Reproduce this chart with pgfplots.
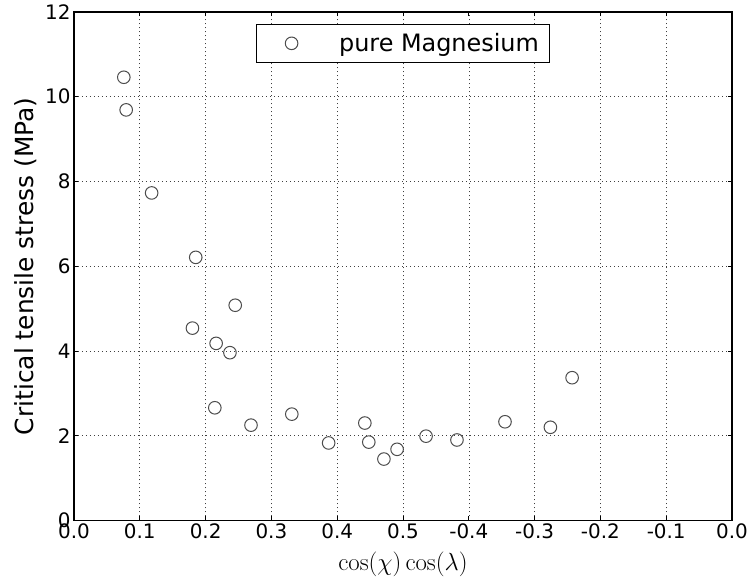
\documentclass[border=0pt]{standalone}
\usepackage{pgfplots}
\pgfplotsset{compat=1.18}
\usepackage[no-math]{fontspec}
\setmainfont{DejaVu Sans}
\usetikzlibrary{calc}
\begin{document}
\begin{tikzpicture}
\begin{axis}[name=ax, scale only axis, width=658bp, height=508.5bp,
  xmin=0, xmax=1, ymin=0, ymax=12,
  xtick={0,0.1,0.2,0.3,0.4,0.5,0.6,0.7,0.8,0.9,1},
  xticklabels={0.0,0.1,0.2,0.3,0.4,0.5,-0.4,-0.3,-0.2,-0.1,0.0},
  ytick={0,2,4,6,8,10,12}, yticklabels={0,2,4,6,8,10,12},
  tick align=inside, major tick length=4bp,
  tick style={black, line width=0.8bp},
  axis line style={black, line width=1.1bp},
  grid=major,
  major grid style={black!75, line width=0.6bp, dash pattern=on 1bp off 3bp},
  ticklabel style={font=\fontsize{20}{24}\selectfont},
  xlabel={$\cos(\chi)\cos(\lambda)$},
  ylabel={Critical tensile stress (MPa)},
  xlabel style={font=\fontsize{25}{30}\selectfont, at={(axis description cs:0.5,0)}, anchor=base, yshift=-50bp},
  ylabel style={font=\fontsize{25}{30}\selectfont, at={(axis description cs:-0.0623,0.5)}, rotate=0, anchor=base},
  legend image code/.code={\path (0bp,0bp) (82bp,0bp); \draw[black!70, line width=1bp] (35bp,0bp) circle (6.3bp);},
  legend style={draw=black, line width=1bp, inner xsep=0pt, inner ysep=0pt,
    at={(axis description cs:0.5,1)}, anchor=north, yshift=-12bp,
    font=\fontsize{24}{29}\selectfont, nodes={inner xsep=0pt, inner ysep=9bp},
    /tikz/column sep=0pt},
]
\addplot[only marks, mark=o, mark size=6.3bp, mark options={draw=black!70, line width=1bp}] coordinates {
(0.0757,10.46)
(0.0793,9.69)
(0.118,7.73)
(0.185,6.21)
(0.180,4.54)
(0.245,5.08)
(0.216,4.18)
(0.237,3.96)
(0.214,2.66)
(0.269,2.25)
(0.331,2.51)
(0.387,1.83)
(0.442,2.30)
(0.448,1.85)
(0.471,1.45)
(0.491,1.68)
(0.535,1.99)
(0.582,1.90)
(0.655,2.33)
(0.724,2.20)
(0.757,3.37)
};
\addlegendentry{pure Magnesium\hspace*{11bp}}
\end{axis}
\pgfresetboundingbox
\path ($(ax.south west)+(-74bp,-58.5bp)$) rectangle ($(ax.north east)+(16bp,12bp)$);
\end{tikzpicture}
\end{document}
